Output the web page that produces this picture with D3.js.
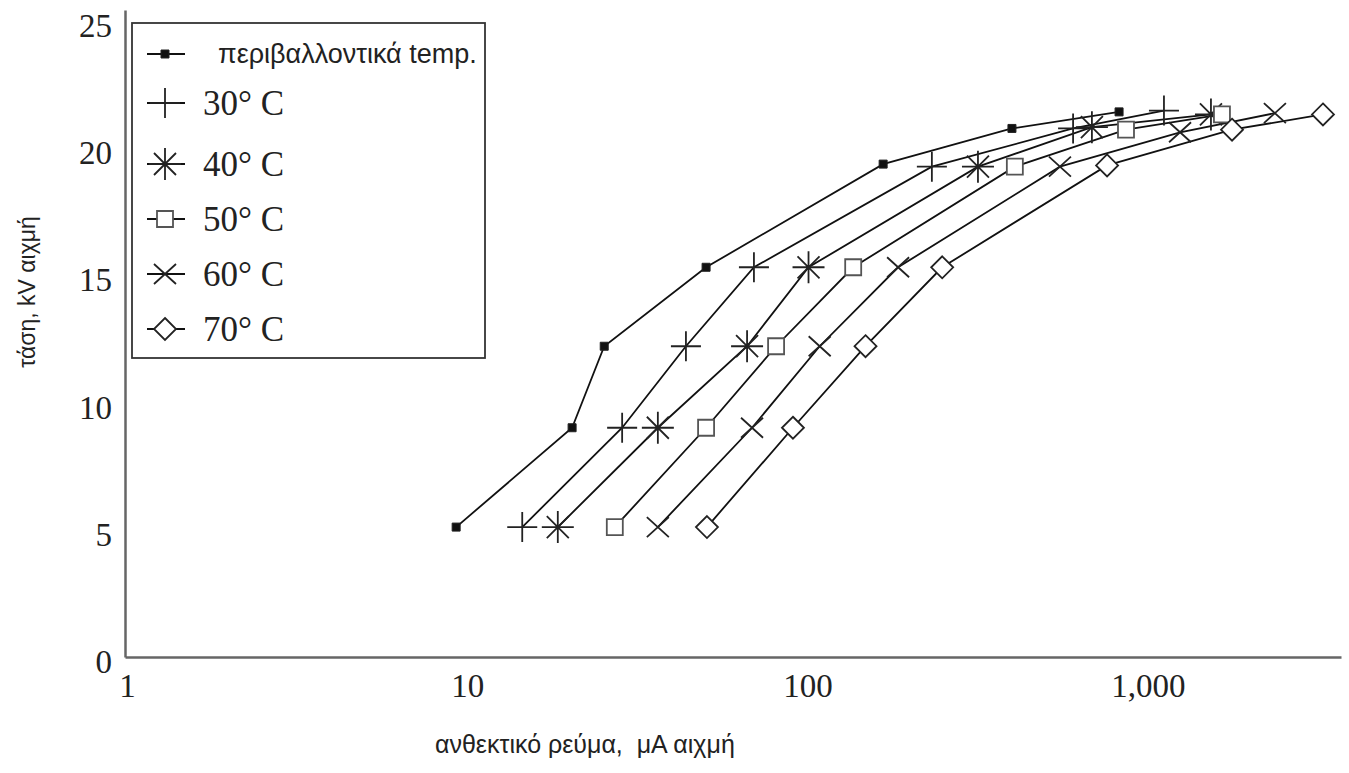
<!DOCTYPE html>
<html>
<head>
<meta charset="utf-8">
<script src="https://cdn.jsdelivr.net/npm/d3@7"></script>
<style>
body { margin: 0; background: #fff; }
svg { display: block; }
.tick text { font-family: "Liberation Serif", "Times New Roman", serif; font-size: 33px; fill: #222; }
.sans { font-family: "Liberation Sans", Arial, sans-serif; fill: #222; white-space: pre; }
.serif { font-family: "Liberation Serif", "Times New Roman", serif; fill: #222; }
</style>
</head>
<body>
<svg id="chart" width="1349" height="773"></svg>
<script>
// series labels
const seriesNames = ["περιβαλλοντικά temp.", "30° C", "40° C", "50° C", "60° C", "70° C"];

// withstand current, uA peak / voltage, kV peak
const ambientI = [9.4, 20.6, 25.6, 51, 169, 404, 834];
const ambientKV = [5.1, 9.0, 12.2, 15.3, 19.35, 20.75, 21.4];
const c30I = [14.7, 28.9, 44.5, 70.5, 235, 611, 1130];
const c30KV = [5.1, 9.0, 12.2, 15.3, 19.25, 20.75, 21.45];
const c40I = [18.7, 36.8, 67.3, 102, 321, 694, 1553];
const c40KV = [5.1, 9.0, 12.2, 15.3, 19.25, 20.8, 21.3];
const c50I = [27.5, 51, 81.9, 138, 412, 874, 1673];
const c50KV = [5.1, 9.0, 12.2, 15.3, 19.25, 20.7, 21.3];
const c60I = [36.8, 69.6, 110, 187, 559, 1260, 2394];
const c60KV = [5.1, 9.0, 12.2, 15.3, 19.25, 20.6, 21.35];
const c70I = [51.3, 91.8, 150, 252, 769, 1791, 3314];
const c70KV = [5.1, 9.0, 12.2, 15.3, 19.3, 20.7, 21.3];

const xTicks = [1, 10, 100, 1000];
const yTicks = [0, 5, 10, 15, 20, 25];

const markers = ["fsquare", "plus", "star", "square", "cross", "diamond"];
const markerPath = {
    fsquare: "M-4,-4h8v8h-8z",
    plus: "M-15,0H15M0,-15V15",
    star: "M-16,0H16M0,-16V16M-11,-11L11,11M-11,11L11,-11",
    square: "M-8,-8h16v16h-16z",
    cross: "M-11,-10L11,10M-11,10L11,-10",
    diamond: "M0,-11L11,0L0,11L-11,0Z"
};

const currents = [ambientI, c30I, c40I, c50I, c60I, c70I];
const voltages = [ambientKV, c30KV, c40KV, c50KV, c60KV, c70KV];
const series = seriesNames.map((name, i) => ({
    name: name,
    marker: markers[i],
    points: currents[i].map((c, j) => ({ x: c, y: voltages[i][j] }))
}));

const svg = d3.select("#chart");

const x = d3.scaleLog().domain([1, 3744]).range([125, 1341]);
const y = d3.scaleLinear().domain([0, 25.4]).range([657, 10]);

// axes
const xAxis = d3.axisBottom(x)
    .tickValues(xTicks)
    .tickFormat(d3.format(","))
    .tickSize(0)
    .tickPadding(14);
const yAxis = d3.axisLeft(y)
    .tickValues(yTicks)
    .tickSize(0)
    .tickPadding(13);

const gx = svg.append("g")
    .attr("transform", "translate(0,657)")
    .call(xAxis);
const gy = svg.append("g")
    .attr("transform", "translate(125,0)")
    .call(yAxis);

gx.select(".domain").attr("stroke", "#666").attr("stroke-width", 2.5);
gy.select(".domain").attr("stroke", "#666").attr("stroke-width", 2.5);
gy.selectAll("text").attr("dy", "0.48em");
gx.selectAll("text").attr("dy", "0.78em").attr("dx", 2);

// lines
const line = d3.line().x(d => x(d.x)).y(d => y(d.y));

svg.append("g")
    .selectAll("path")
    .data(series)
    .enter()
    .append("path")
    .attr("d", d => line(d.points))
    .attr("fill", "none")
    .attr("stroke", "#111")
    .attr("stroke-width", 1.8);

// markers
const fillFor = m => m === "fsquare" ? "#111" : (m === "square" || m === "diamond") ? "#fff" : "none";
const strokeFor = m => m === "square" ? "#555" : "#222";

series.forEach(s => {
    svg.append("g")
        .selectAll("path")
        .data(s.points)
        .enter()
        .append("path")
        .attr("transform", d => "translate(" + x(d.x) + "," + y(d.y) + ")")
        .attr("d", markerPath[s.marker])
        .attr("fill", fillFor(s.marker))
        .attr("stroke", strokeFor(s.marker))
        .attr("stroke-width", s.marker === "fsquare" ? 1 : 1.8);
});

// legend
const legend = svg.append("g");
legend.append("rect")
    .attr("x", 132)
    .attr("y", 23)
    .attr("width", 353)
    .attr("height", 335)
    .attr("fill", "#fff")
    .attr("stroke", "#333")
    .attr("stroke-width", 1.8);

const rowY = d3.scaleLinear().domain([0, 5]).range([54, 329]);

const rows = legend.selectAll("g.row")
    .data(series)
    .enter()
    .append("g")
    .attr("class", "row")
    .attr("transform", (d, i) => "translate(0," + (i === 1 ? rowY(i) - 6 : rowY(i)) + ")");

rows.append("line")
    .attr("x1", 147)
    .attr("x2", 185)
    .attr("stroke", "#111")
    .attr("stroke-width", 1.8);

rows.append("path")
    .attr("transform", "translate(165,0)")
    .attr("d", d => markerPath[d.marker])
    .attr("fill", d => fillFor(d.marker))
    .attr("stroke", d => strokeFor(d.marker))
    .attr("stroke-width", d => d.marker === "fsquare" ? 1 : 1.8);

rows.append("text")
    .attr("class", (d, i) => i === 0 ? "sans" : "serif")
    .attr("x", (d, i) => i === 0 ? 218 : 203)
    .attr("y", (d, i) => i === 0 ? 9 : 12)
    .style("font-size", (d, i) => i === 0 ? "27px" : "35px")
    .text(d => d.name);

// axis titles
svg.append("text")
    .attr("class", "sans")
    .attr("transform", "translate(35,292) rotate(-90)")
    .attr("text-anchor", "middle")
    .style("font-size", "23px")
    .text("τάση, kV αιχμή");

svg.append("text")
    .attr("class", "sans")
    .attr("x", 435)
    .attr("y", 753)
    .style("font-size", "25px")
    .text("ανθεκτικό ρεύμα,  μA αιχμή");
</script>
</body>
</html>
